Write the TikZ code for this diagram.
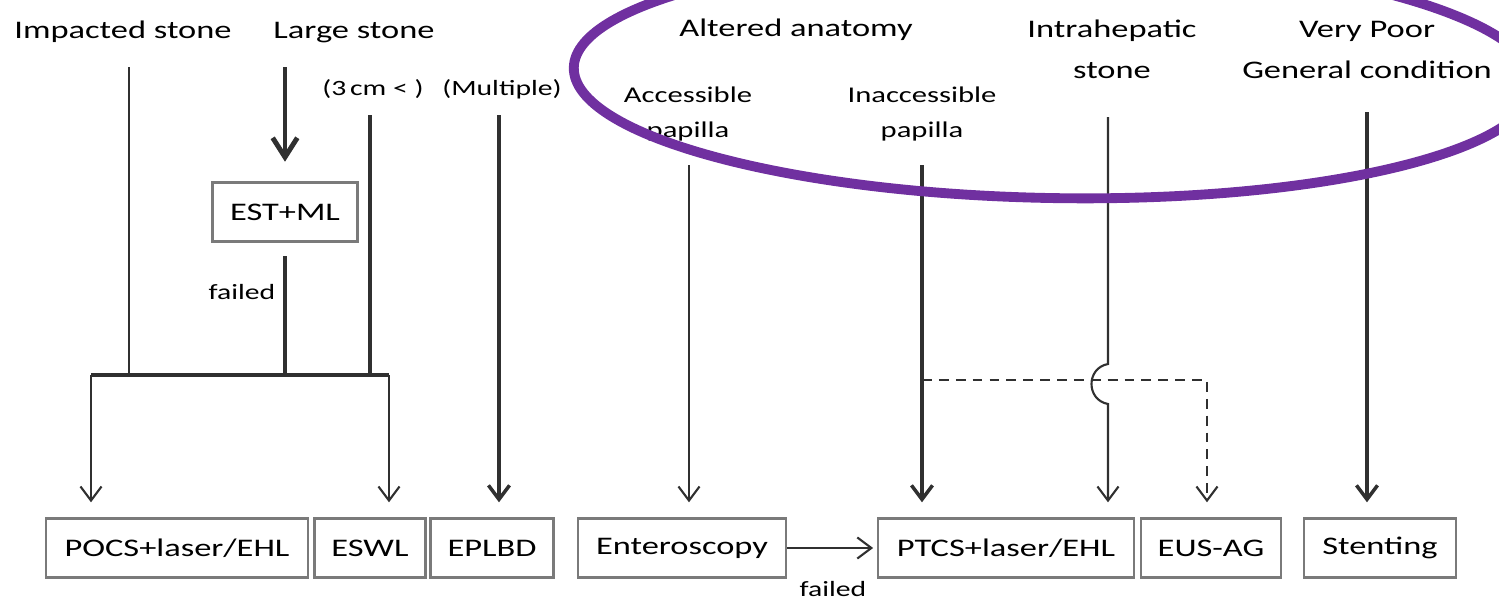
\documentclass[tikz,border=0pt]{standalone}
\usepackage{fontspec}
\setmainfont{Carlito}[FakeStretch=1.36]
\usetikzlibrary{arrows.meta}

\definecolor{ringpurple}{HTML}{7030A0}
\definecolor{linegray}{HTML}{303030}
\definecolor{boxgray}{HTML}{7A7A7A}

\newcommand{\maintxt}{\fontsize{7.2}{11.6}\selectfont}
\newcommand{\subtxt}{\fontsize{6.4}{9.7}\selectfont}
\newcommand{\notetxt}{\fontsize{6.2}{8}\selectfont}

\tikzset{
  box/.style={draw=boxgray, line width=0.6pt, minimum height=0.59cm, inner sep=0pt, font=\maintxt, text=black},
  lbl/.style={font=\maintxt, inner sep=0pt, align=center, anchor=base, text=black},
  sublbl/.style={lbl, font=\subtxt},
  note/.style={lbl, font=\notetxt},
  thinline/.style={draw=linegray, line width=0.6pt},
  thickline/.style={draw=linegray, line width=1pt},
  arrowed/.style={-{Straight Barb[length=4pt,width=6pt]}, shorten >=4.3pt},
}

\begin{document}
\begin{tikzpicture}[x=0.01cm, y=-0.01cm]
    \clip (0,0) rectangle (1499,600);

    % the treatment boxes
    \node[box, minimum width=2.62cm] (pocs) at (177,548) {POCS+laser/EHL};
    \node[box, minimum width=1.11cm] (eswl) at (370,548) {ESWL};
    \node[box, minimum width=1.23cm] (eplbd) at (492,548) {EPLBD};
    \node[box, minimum width=2.08cm] (entero) at (682,548) {Enteroscopy};
    \node[box, minimum width=2.55cm] (ptcs) at (1006,548) {PTCS+laser/EHL};
    \node[box, minimum width=1.40cm] (eusag) at (1211,548) {EUS-AG};
    \node[box, minimum width=1.52cm] (stent) at (1380,548) {Stenting};
    \node[box, minimum width=1.45cm] (estml) at (285,212) {EST+ML};

    % the conditions on top (two-line texts sit on their last line)
    \node[lbl] (impacted) at (123,38) {Impacted stone};
    \node[lbl] (large) at (354,38) {Large stone};
    \node[note] (sizecm) at (373,96) {(3\,cm~<~)};
    \node[note] (multi) at (502,96) {(Multiple)};
    \node[lbl] (altered) at (796,37) {Altered anatomy};
    \node[sublbl] (access) at (688,137) {Accessible\\papilla};
    \node[sublbl] (inacc) at (922,137) {Inaccessible\\papilla};
    \node[lbl] (intra) at (1112,78) {Intrahepatic\\stone};
    \node[lbl] (poor) at (1367,78) {Very Poor\\General condition};
    \node[note] (failA) at (242,299) {failed};
    \node[note] (failB) at (833,596) {failed};

    % where the lines start
    \coordinate (impS) at (129,67);
    \coordinate (largeS) at (285,67);
    \coordinate (failS) at (285,256);
    \coordinate (cmS) at (370,115);
    \coordinate (multS) at (499,115);
    \coordinate (barL) at (91,375);
    \coordinate (barR) at (389,375);
    \coordinate (accS) at (689,165);
    \coordinate (inaS) at (922,165);
    \coordinate (intS) at (1108,117);
    \coordinate (hopT) at (1108,364);
    \coordinate (hopB) at (1108,404);
    \coordinate (dashS) at (922,380);
    \coordinate (dashC) at (1207,380);
    \coordinate (poorS) at (1367,112);

    % left part
    \draw[thinline] (impS) -- (impS |- barL);
    \draw[thickline, -{Straight Barb[length=5.5pt,width=7pt,line width=1.4pt]}, shorten >=5.6pt] (largeS) -- (estml.north);
    \draw[thickline] (failS) -- (failS |- barL);
    \draw[thickline] (cmS) -- (cmS |- barL);
    \draw[draw=linegray, line width=1.2pt] (barL) -- (barR);
    \draw[thinline, arrowed] (barL) -- (barL |- pocs.north);
    \draw[thinline, arrowed] (barR) -- (barR |- eswl.north);
    \draw[thickline, arrowed] (multS) -- (multS |- eplbd.north);

    % right part
    \draw[thinline, arrowed] (accS) -- (accS |- entero.north);
    \draw[thickline, arrowed] (inaS) -- (inaS |- ptcs.north);
    \draw[thinline, -{Straight Barb[length=4pt,width=6pt]}, shorten >=1.2pt] (entero.east) -- (ptcs.west);
    \draw[thinline, dash pattern=on 2.8pt off 2pt, arrowed] (dashS) -- (dashC) -- (dashC |- eusag.north);
    \draw[thinline, arrowed] (intS) -- (hopT) .. controls (1086,368) and (1086,400) .. (hopB) -- (hopB |- ptcs.north);
    \draw[thickline, arrowed] (poorS) -- (poorS |- stent.north);

    % the ring
    \draw[ringpurple, line width=2.8pt, rotate around={-1:(1054,76)}] (1054,76) ellipse [x radius=4.8cm, y radius=1.22cm];
\end{tikzpicture}
\end{document}
